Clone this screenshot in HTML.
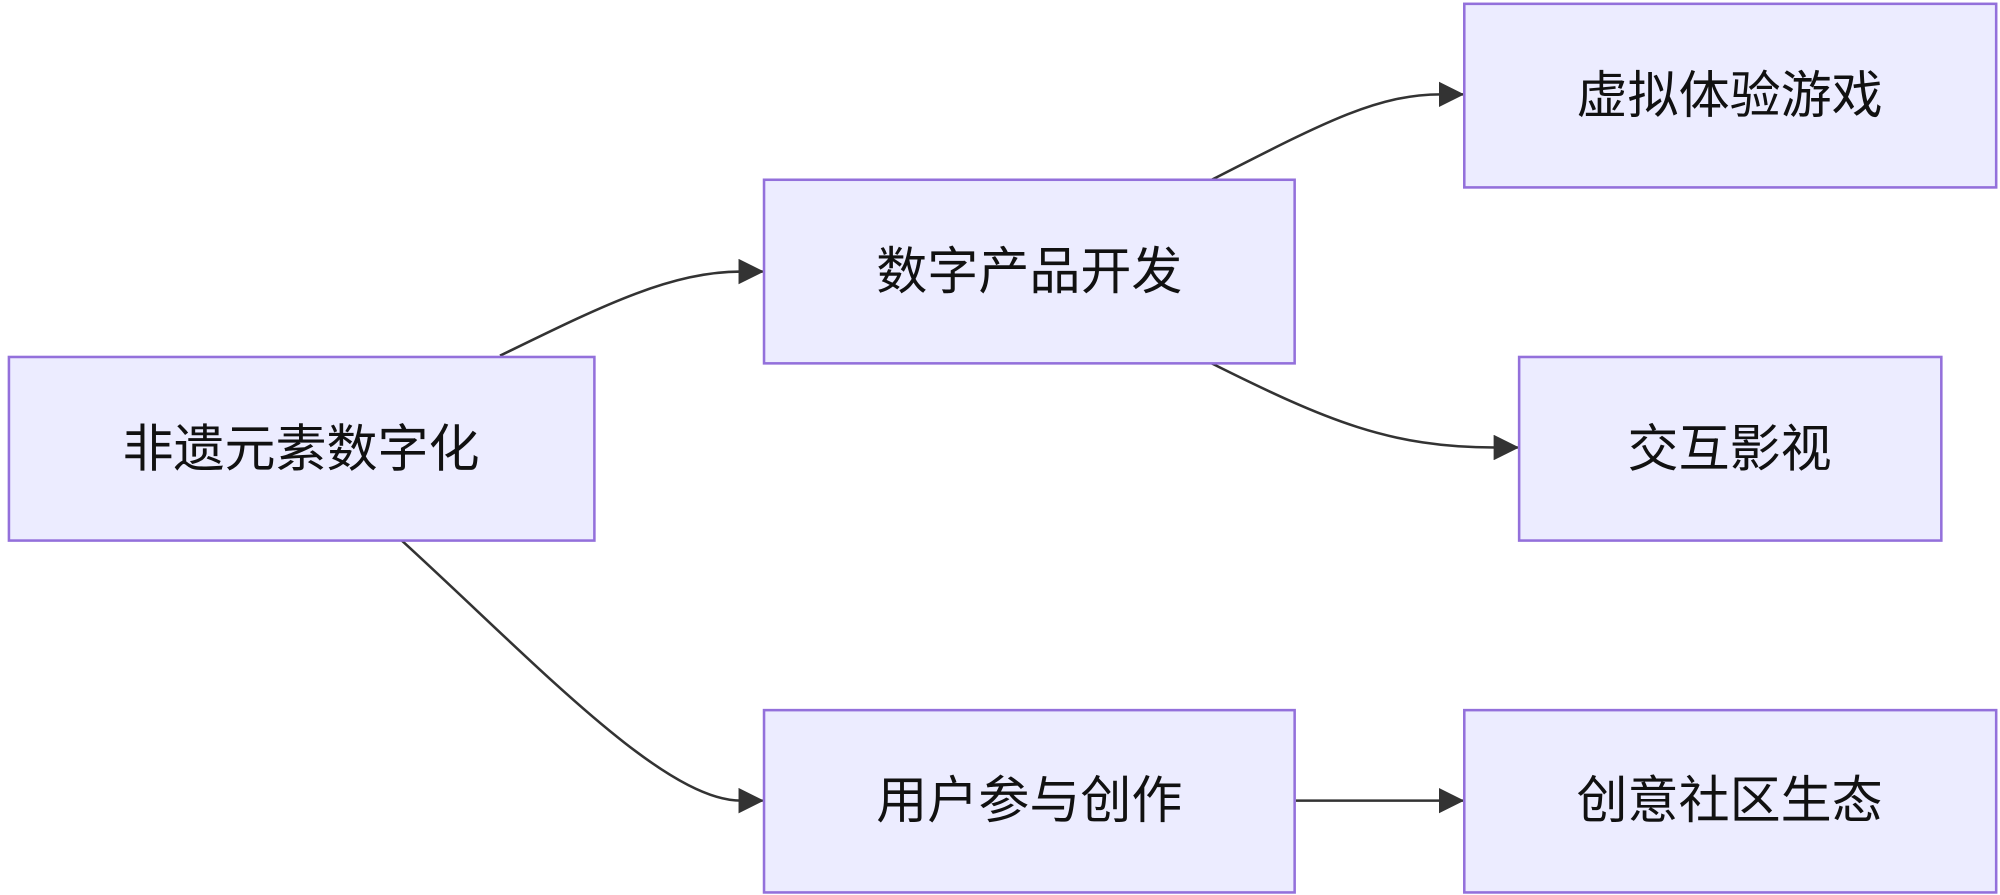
<!DOCTYPE html>
<html><head><meta charset="utf-8"><style>
html,body{margin:0;padding:0;background:#fff;}
svg{display:block;}
text{font-family:"Liberation Sans","Noto Sans CJK SC",sans-serif;font-size:40px;fill:#111;}
</style></head><body>
<svg width="2000" height="895" viewBox="0 0 1568 702" preserveAspectRatio="none" xmlns="http://www.w3.org/2000/svg">
<defs><marker id="ar" viewBox="0 0 10 10" refX="9" refY="5" markerWidth="10" markerHeight="10" markerUnits="userSpaceOnUse" orient="auto"><path d="M0,0 L10,5 L0,10 z" fill="#333"/></marker>
<marker id="a" viewBox="0 0 20 20" refX="19" refY="10" markerWidth="20" markerHeight="20" markerUnits="userSpaceOnUse" orient="auto"><path d="M0,0 L20,10 L0,20 z" fill="#333"/></marker></defs>
<g fill="none" stroke="#333" stroke-width="2">
<path d="M392,279 C470,241 525,213 581,213 L598,213" marker-end="url(#a)"/>
<path d="M950,141 C1040,95 1080,74 1130,74 L1147,74" marker-end="url(#a)"/>
<path d="M950,285 C1040,330 1090,351 1172,351 L1190,351" marker-end="url(#a)"/>
<path d="M315,424 C420,520 520,628 581,628 L598,628" marker-end="url(#a)"/>
<path d="M1016,628 L1147,628" marker-end="url(#a)"/>
</g>
<g fill="#ECECFF" stroke="#9370DB" stroke-width="2">
<rect x="7" y="280" width="459" height="144"/>
<rect x="599" y="141" width="416" height="144"/>
<rect x="1148" y="3" width="417" height="144"/>
<rect x="1191" y="280" width="331" height="144"/>
<rect x="599" y="557" width="416" height="143"/>
<rect x="1148" y="557" width="417" height="143"/>
</g>
<g text-anchor="middle" dominant-baseline="central">
<text x="236" y="352">非遗元素数字化</text>
<text x="807" y="213">数字产品开发</text>
<text x="1356" y="75">虚拟体验游戏</text>
<text x="1356" y="352">交互影视</text>
<text x="807" y="628">用户参与创作</text>
<text x="1356" y="628">创意社区生态</text>
</g>
</svg>
</body></html>
